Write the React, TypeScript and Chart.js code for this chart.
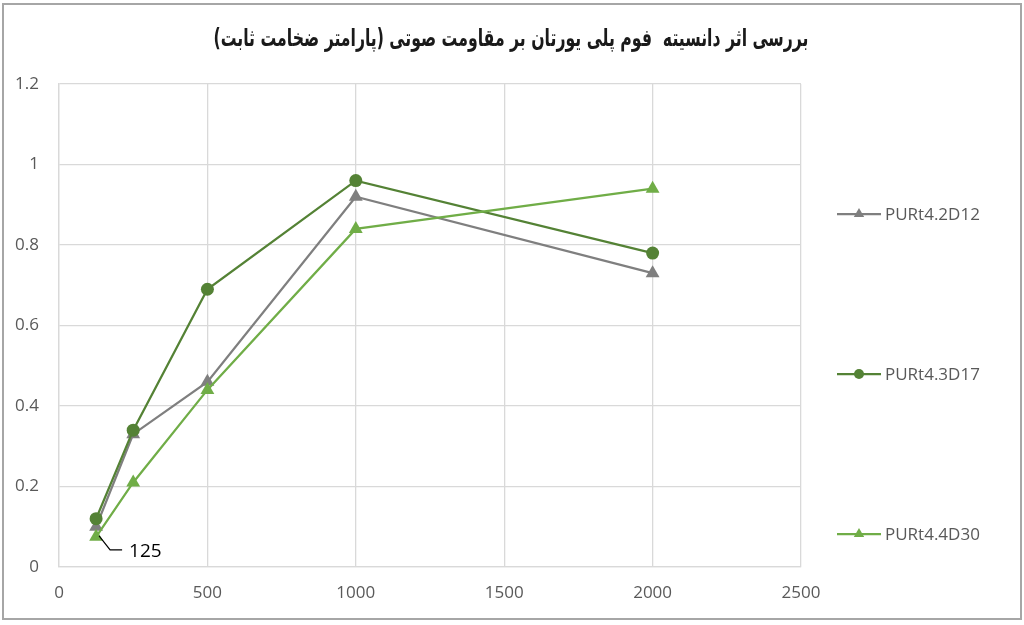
import React, { useEffect, useRef } from "react";
import { Chart, registerables } from "chart.js";

Chart.register(...registerables);

const chartTitle = "بررسی اثر دانسیته  فوم پلی یورتان بر مقاومت صوتی (پارامتر ضخامت ثابت)";
const frequencies = [125, 250, 500, 1000, 2000];
const seriesNames = ["PURt4.2D12", "PURt4.3D17", "PURt4.4D30"];
const seriesD12 = [0.10, 0.33, 0.46, 0.92, 0.73];
const seriesD17 = [0.12, 0.34, 0.69, 0.96, 0.78];
const seriesD30 = [0.075, 0.21, 0.44, 0.84, 0.94];
const xTicks = [0, 500, 1000, 1500, 2000, 2500];
const yTicks = [0, 0.2, 0.4, 0.6, 0.8, 1, 1.2];
const yTickLabels = ["0", "0.2", "0.4", "0.6", "0.8", "1", "1.2"];
const annotationText = "125";

const colors = ["#7F7F7F", "#548235", "#70AD47"];
const styles = ["triangle", "circle", "triangle"];
const TICK_FONT = { family: "'Open Sans', sans-serif", size: 17 };

function drawMarker(ctx: CanvasRenderingContext2D, style: string, x: number, y: number, r: number, color: string) {
  ctx.save();
  ctx.fillStyle = color;
  ctx.beginPath();
  if (style === "circle") {
    ctx.arc(x, y, r, 0, Math.PI * 2);
  } else {
    ctx.moveTo(x, y - r);
    ctx.lineTo(x + r * 0.866, y + r * 0.5);
    ctx.lineTo(x - r * 0.866, y + r * 0.5);
    ctx.closePath();
  }
  ctx.fill();
  ctx.restore();
}

const titlePlugin = {
  id: "rtlTitle",
  afterDraw(chart: any) {
    const ctx = chart.ctx as CanvasRenderingContext2D;
    ctx.save();
    ctx.font = "bold 24px 'DejaVu Sans', sans-serif";
    ctx.fillStyle = "#1A1A1A";
    ctx.textAlign = "center";
    ctx.textBaseline = "middle";
    (ctx as any).direction = "rtl";
    const w = ctx.measureText(chartTitle).width;
    const targetW = 595;
    const sx = w > 0 ? targetW / w : 1;
    ctx.translate(511, 40);
    ctx.scale(sx, 1);
    ctx.fillText(chartTitle, 0, 0);
    ctx.restore();
  },
};

const legendPlugin = {
  id: "spreadLegend",
  afterDraw(chart: any) {
    const ctx = chart.ctx as CanvasRenderingContext2D;
    const ys = [214, 374, 534];
    chart.data.datasets.forEach((ds: any, i: number) => {
      const y = ys[i];
      ctx.save();
      ctx.strokeStyle = ds.borderColor;
      ctx.lineWidth = 2.25;
      ctx.beginPath();
      ctx.moveTo(837, y);
      ctx.lineTo(881, y);
      ctx.stroke();
      ctx.restore();
      drawMarker(ctx, ds.pointStyle, 859, y, ds.pointStyle === "circle" ? 5 : 6, ds.backgroundColor);
      ctx.save();
      ctx.font = "17px 'Open Sans', sans-serif";
      ctx.fillStyle = "#595959";
      ctx.textAlign = "left";
      ctx.textBaseline = "middle";
      ctx.fillText(ds.label, 885, y + 1);
      ctx.restore();
    });
  },
};

const annotationPlugin = {
  id: "pointAnnotation",
  afterDatasetsDraw(chart: any) {
    const meta = chart.getDatasetMeta(2);
    const pt = meta.data[0];
    if (!pt) return;
    const ctx = chart.ctx as CanvasRenderingContext2D;
    ctx.save();
    ctx.strokeStyle = "#000000";
    ctx.lineWidth = 1.2;
    ctx.beginPath();
    ctx.moveTo(pt.x + 3, pt.y - 1);
    ctx.lineTo(pt.x + 14, pt.y + 13);
    ctx.lineTo(pt.x + 26, pt.y + 13);
    ctx.stroke();
    ctx.font = "19px 'Open Sans', sans-serif";
    ctx.fillStyle = "#000000";
    ctx.textAlign = "left";
    ctx.textBaseline = "middle";
    ctx.fillText(annotationText, pt.x + 33, pt.y + 15);
    ctx.restore();
  },
};

export default function App() {
  const canvasRef = useRef<HTMLCanvasElement | null>(null);

  useEffect(() => {
    if (!canvasRef.current) return;
    const makeData = (vals: number[]) => frequencies.map((x, i) => ({ x, y: vals[i] }));
    const allSeries = [seriesD12, seriesD17, seriesD30];
    const chart = new Chart(canvasRef.current, {
      type: "line",
      data: {
        datasets: allSeries.map((vals, i) => ({
          label: seriesNames[i],
          data: makeData(vals),
          borderColor: colors[i],
          backgroundColor: colors[i],
          pointBackgroundColor: colors[i],
          pointBorderColor: colors[i],
          pointStyle: styles[i],
          pointRadius: styles[i] === "circle" ? 6.5 : 8,
          borderWidth: 2.25,
          pointBorderWidth: 0,
          tension: 0,
          order: 3 - i,
        })),
      } as any,
      options: {
        animation: false,
        responsive: false,
        maintainAspectRatio: false,
        layout: { padding: { left: 0, right: 223, top: 84, bottom: 18 } },
        plugins: {
          legend: { display: false },
          tooltip: { enabled: false },
          title: { display: false },
        },
        scales: {
          x: {
            type: "linear",
            min: 0,
            max: 2500,
            afterBuildTicks: (scale: any) => {
              scale.ticks = xTicks.map((v) => ({ value: v }));
            },
            afterFit: (scale: any) => {
              scale.height = 40;
            },
            ticks: {
              font: TICK_FONT,
              color: "#595959",
              padding: 16,
              maxRotation: 0,
              callback: (v: any) => String(v),
            },
            grid: { color: "#D9D9D9", lineWidth: 1.3, drawTicks: false },
            border: { display: true, color: "#D9D9D9", width: 1.3 },
          },
          y: {
            type: "linear",
            min: 0,
            max: 1.2,
            afterBuildTicks: (scale: any) => {
              scale.ticks = yTicks.map((v) => ({ value: v }));
            },
            afterFit: (scale: any) => {
              scale.width = 59;
            },
            ticks: {
              font: TICK_FONT,
              color: "#595959",
              padding: 20,
              callback: (_v: any, idx: number) => yTickLabels[idx],
            },
            grid: { color: "#D9D9D9", lineWidth: 1.3, drawTicks: false },
            border: { display: true, color: "#D9D9D9", width: 1.3 },
          },
        },
      } as any,
      plugins: [titlePlugin, legendPlugin, annotationPlugin],
    });
    return () => chart.destroy();
  }, []);

  return (
    <div style={{ position: "fixed", left: 0, top: 0, width: 1024, height: 625, background: "#FFFFFF" }}>
      <canvas ref={canvasRef} width={1024} height={625} style={{ position: "absolute", left: 0, top: 0, width: 1024, height: 625 }} />
      <div
        style={{
          position: "absolute",
          left: 2,
          top: 3,
          width: 1020,
          height: 617,
          boxSizing: "border-box",
          border: "2px solid #A6A6A6",
          pointerEvents: "none",
        }}
      />
    </div>
  );
}
